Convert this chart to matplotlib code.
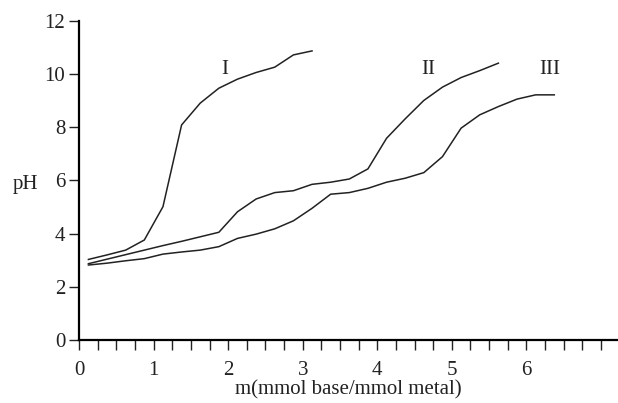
import numpy as np
import matplotlib
matplotlib.use('Agg')
import matplotlib.pyplot as plt

plt.rcParams['font.family'] = ['Liberation Serif', 'DejaVu Serif']

# base added per metal (every quarter, offset by 1/8)
m_I = [0.125, 0.375, 0.625, 0.875, 1.125, 1.375, 1.625, 1.875, 2.125, 2.375, 2.625, 2.875, 3.125]
ph_I = [3.03, 3.20, 3.38, 3.76, 5.01, 8.08, 8.90, 9.46, 9.80, 10.05, 10.25, 10.71, 10.86]

m_II = [0.125, 0.375, 0.625, 0.875, 1.125, 1.375, 1.625, 1.875, 2.125, 2.375, 2.625,
        2.875, 3.125, 3.375, 3.625, 3.875, 4.125, 4.375, 4.625, 4.875, 5.125, 5.375, 5.625]
ph_II = [2.87, 3.04, 3.21, 3.38, 3.55, 3.71, 3.88, 4.05, 4.82, 5.30, 5.54,
         5.61, 5.85, 5.93, 6.05, 6.43, 7.58, 8.31, 9.00, 9.50, 9.86, 10.12, 10.40]

m_III = [0.125, 0.375, 0.625, 0.875, 1.125, 1.375, 1.625, 1.875, 2.125, 2.375, 2.625,
         2.875, 3.125, 3.375, 3.625, 3.875, 4.125, 4.375, 4.625, 4.875, 5.125, 5.375,
         5.625, 5.875, 6.125, 6.375]
ph_III = [2.82, 2.89, 2.98, 3.06, 3.23, 3.31, 3.38, 3.51, 3.82, 3.98, 4.18,
          4.48, 4.95, 5.48, 5.54, 5.70, 5.93, 6.08, 6.29, 6.89, 7.96, 8.46,
          8.77, 9.05, 9.21, 9.21]

curve_names = ['I', 'II', 'III']
name_pos = [(1.95, 10.15), (4.68, 10.15), (6.32, 10.15)]

fig = plt.figure(figsize=(6.18, 4.03), dpi=100)
ax = fig.add_axes([0.128, 0.156, 0.872, 0.793])

for xs, ys in [(m_I, ph_I), (m_II, ph_II), (m_III, ph_III)]:
    ax.plot(xs, ys, color='#222222', lw=1.1)

for name, (tx, ty) in zip(curve_names, name_pos):
    ax.text(tx, ty, name, ha='center', va='center', fontsize=15, color='#222222')

ax.set_xlim(0, 7.23)
ax.set_ylim(0, 12)
ax.spines['top'].set_visible(False)
ax.spines['right'].set_visible(False)
ax.spines['left'].set_linewidth(1.6)
ax.spines['bottom'].set_linewidth(1.6)

xt = np.arange(0, 7.01, 0.25)
ax.set_xticks(xt)
ax.set_xticklabels([str(int(v)) if v == int(v) and v < 7 else '' for v in xt])
ax.set_yticks(range(0, 13, 2))
ax.tick_params(axis='both', direction='out', length=7, width=1.0, labelsize=15,
               colors='#222222', pad=3)
ax.tick_params(axis='x', pad=8)

ax.set_xlabel('m(mmol base/mmol metal)', fontsize=15, color='#222222', labelpad=0)
fig.text(25 / 618, 1 - 184 / 403, 'pH', fontsize=15, ha='center', va='center', color='#222222')

fig.savefig('out.png', dpi=100)
